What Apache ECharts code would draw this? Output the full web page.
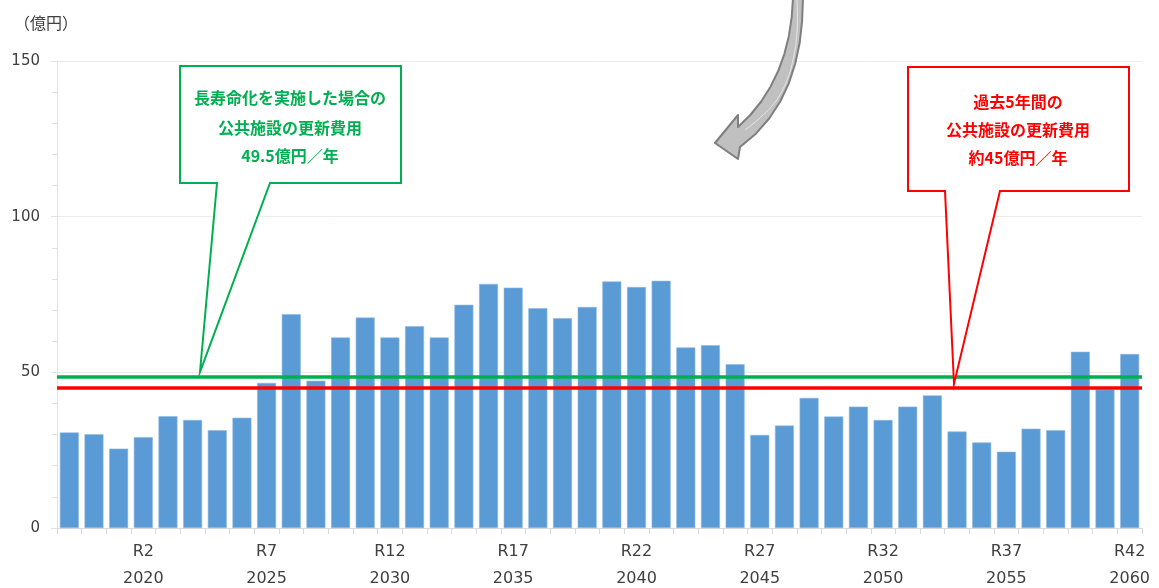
<!DOCTYPE html>
<html>
<head>
<meta charset="utf-8">
<script src="https://cdn.jsdelivr.net/npm/echarts@6/dist/echarts.min.js"></script>
<style>
html,body{margin:0;padding:0;background:#fff;}
#main{width:1159px;height:588px;}
</style>
</head>
<body>
<div id="main"></div>
<script>
const years = ['2017','2018','2019','2020','2021','2022','2023','2024','2025','2026','2027','2028','2029','2030','2031','2032','2033','2034','2035','2036','2037','2038','2039','2040','2041','2042','2043','2044','2045','2046','2047','2048','2049','2050','2051','2052','2053','2054','2055','2056','2057','2058','2059','2060'];
const eras = ['H29','H30','R1','R2','R3','R4','R5','R6','R7','R8','R9','R10','R11','R12','R13','R14','R15','R16','R17','R18','R19','R20','R21','R22','R23','R24','R25','R26','R27','R28','R29','R30','R31','R32','R33','R34','R35','R36','R37','R38','R39','R40','R41','R42'];
const renewalCost = [30.7,30.1,25.5,29.2,35.9,34.7,31.4,35.4,46.6,68.7,47.3,61.2,67.6,61.2,64.8,61.2,71.7,78.4,77.2,70.6,67.4,71.0,79.2,77.4,79.4,58.0,58.7,52.6,29.9,32.9,41.8,35.8,39.0,34.7,39.0,42.6,31.0,27.5,24.5,31.9,31.4,56.6,44.5,55.9];
const longLifeAvg = 48.6;   // 長寿命化を実施した場合
const pastAvg = 45;         // 過去5年間
const yTicks = [0, 50, 100, 150];
const greenLines = ['長寿命化を実施した場合の', '公共施設の更新費用', '49.5億円／年'];
const redLines = ['過去5年間の', '公共施設の更新費用', '約45億円／年'];

const chart = echarts.init(document.getElementById('main'));
const cjk = '"Noto Sans CJK JP", sans-serif';

function textLines(lines, cx, ys, color) {
  return lines.map((t, i) => ({
    type: 'text', x: cx, y: ys[i], z: 110,
    style: { text: t, fill: color, font: 'bold 16px ' + cjk, align: 'center', verticalAlign: 'middle' }
  }));
}

const arrowOutline = [[793,-2],[791.7,17.2],[788.9,35.9],[784.4,53.8],[778.3,70.8],[770.5,86.7],[761.2,101.5],[750.3,115],[738,127],[738,115],[715,143],[738,159],[740,147],[755.9,133.7],[769.2,118.5],[780.1,101.7],[788.8,83.4],[795.2,63.7],[799.7,42.8],[802.1,20.8],[803,-2]];

chart.setOption({
  animation: false,
  grid: { left: 57, right: 17, top: 61, bottom: 60, containLabel: false, outerBoundsMode: 'none' },
  xAxis: {
    type: 'category',
    data: years,
    boundaryGap: true,
    axisLine: { lineStyle: { color: '#d9d9d9', width: 1 } },
    axisTick: { show: true, interval: 0, length: 6, lineStyle: { color: '#d9d9d9' } },
    axisLabel: {
      interval: (i) => (i - 3) % 5 === 0,
      formatter: (v, i) => eras[i] + '\n' + v,
      fontSize: 16, lineHeight: 27, margin: 10, color: '#404040',
      fontFamily: '"DejaVu Sans", Verdana, sans-serif'
    }
  },
  yAxis: {
    type: 'value',
    min: yTicks[0], max: yTicks[yTicks.length - 1], interval: 50,
    axisLine: { show: true, lineStyle: { color: '#e3e3e3' } },
    axisTick: { show: true, length: 6, lineStyle: { color: '#e3e3e3' } },
    minorTick: { show: true, splitNumber: 5, length: 5, lineStyle: { color: '#e3e3e3' } },
    splitLine: { show: true, lineStyle: { color: '#ececec' } },
    axisLabel: { fontSize: 15, margin: 17, color: '#404040', fontFamily: '"DejaVu Sans", Verdana, sans-serif' }
  },
  series: [{
    type: 'bar',
    data: renewalCost,
    barCategoryGap: '23%',
    itemStyle: { color: '#5b9bd5', borderColor: '#8fb9e3', borderWidth: 0.6 },
    markLine: {
      silent: true,
      symbol: ['none', 'none'],
      label: { show: false },
      z: 5,
      data: [
        { yAxis: longLifeAvg, lineStyle: { color: '#00b050', width: 3.5, type: 'solid' } },
        { yAxis: pastAvg, lineStyle: { color: '#ff0000', width: 3.5, type: 'solid' } }
      ]
    }
  }],
  graphic: [
    { type: 'text', x: 14, y: 23, style: { text: '（億円）', fill: '#404040', font: '16px ' + cjk, verticalAlign: 'middle' } },
    { type: 'polygon', z: 100, shape: { points: arrowOutline },
      style: { fill: '#c0c0c0', stroke: '#7f7f7f', lineWidth: 2, lineJoin: 'round' } },
    { type: 'polyline', z: 101, shape: { points: [[797,0],[795,50],[778,98],[745,130]], smooth: 0.4 },
      style: { stroke: '#e6e6e6', lineWidth: 1, fill: null } },
    { type: 'polygon', z: 100,
      shape: { points: [[180,66],[401,66],[401,183],[270,183],[200,372],[217,183],[180,183]] },
      style: { fill: '#ffffff', stroke: '#00b050', lineWidth: 2 } },
    { type: 'polygon', z: 100,
      shape: { points: [[908,67],[1129,67],[1129,191],[1000,191],[954,384],[945,191],[908,191]] },
      style: { fill: '#ffffff', stroke: '#ff0000', lineWidth: 2 } }
  ].concat(textLines(greenLines, 290, [98, 128, 156], '#00b050'))
   .concat(textLines(redLines, 1018, [102, 130, 158], '#ff0000'))
});
</script>
</body>
</html>
